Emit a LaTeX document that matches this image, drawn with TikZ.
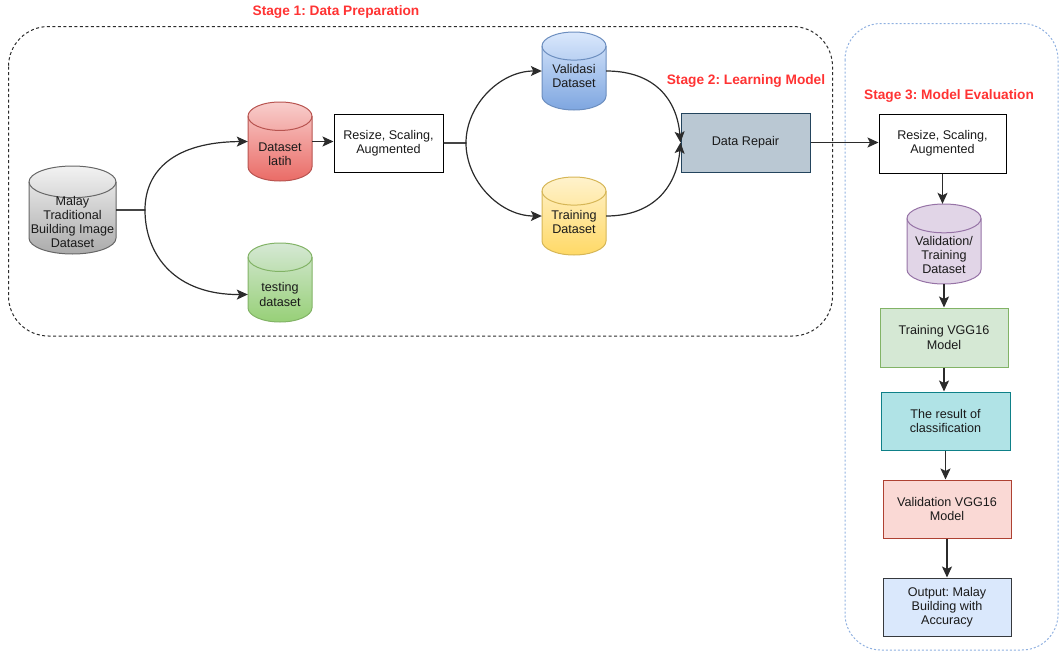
\documentclass[tikz,border=0pt]{standalone}
\usepackage{fontspec}
\setmainfont{Liberation Sans}
\usetikzlibrary{arrows.meta}
\frenchspacing
\definecolor{ttl}{HTML}{FF3333}
\definecolor{edge}{HTML}{2B2B2B}
\definecolor{txtc}{HTML}{1A1A1A}
\definecolor{grayT}{HTML}{F2F2F2}\definecolor{grayB}{HTML}{ABABAB}\definecolor{grayS}{HTML}{666666}
\definecolor{redT}{HTML}{F8CECC}\definecolor{redB}{HTML}{EA6B66}\definecolor{redS}{HTML}{B85450}
\definecolor{grnT}{HTML}{D5E8D4}\definecolor{grnB}{HTML}{97D077}\definecolor{grnS}{HTML}{82B366}
\definecolor{bluT}{HTML}{DAE8FC}\definecolor{bluB}{HTML}{7EA6E0}\definecolor{bluS}{HTML}{6C8EBF}
\definecolor{yelT}{HTML}{FFF2CC}\definecolor{yelB}{HTML}{FFD966}\definecolor{yelS}{HTML}{D6B656}
\definecolor{purF}{HTML}{E1D5E7}\definecolor{purS}{HTML}{9673A6}
\definecolor{repF}{HTML}{BAC8D3}\definecolor{repS}{HTML}{23445D}
\definecolor{tvF}{HTML}{D5E8D4}\definecolor{tvS}{HTML}{82B366}
\definecolor{resF}{HTML}{B0E3E6}\definecolor{resS}{HTML}{0E8088}
\definecolor{valF}{HTML}{FAD9D5}\definecolor{valS}{HTML}{AE4132}
\definecolor{outF}{HTML}{DAE8FC}\definecolor{outS}{HTML}{36393D}
\definecolor{st3}{HTML}{8FB0E0}

\newcommand\dbcyl[8]{%
 \pgfmathsetmacro\cylL{#2-(#4)/2}\pgfmathsetmacro\cylR{#2+(#4)/2}%
 \pgfmathsetmacro\cylT{-(#3)+(#5)/2}\pgfmathsetmacro\cylB{-(#3)-(#5)/2}%
 \pgfmathsetmacro\cylRy{0.18*(#5)}\pgfmathsetmacro\cylRx{(#4)/2}%
 \path[draw=#8, line width=1pt, top color=#6, bottom color=#7]
   (\cylL,\cylT-\cylRy) -- (\cylL,\cylB+\cylRy)
   arc[start angle=180, end angle=360, x radius=\cylRx, y radius=\cylRy]
   -- (\cylR,\cylT-\cylRy)
   arc[start angle=0, end angle=180, x radius=\cylRx, y radius=\cylRy] -- cycle;
 \draw[draw=#8, line width=1pt] (\cylL,\cylT-\cylRy)
   arc[start angle=180, end angle=360, x radius=\cylRx, y radius=\cylRy];
 \node[inner sep=0pt, minimum width=#4pt, minimum height=#5pt] (#1) at (#2,-#3) {};
}

\tikzset{
 conn/.style={draw=edge, line width=1.2pt, -{Stealth[length=11pt,width=10pt,inset=2.5pt]}},
 txt/.style={align=center, inner sep=0pt, text=txtc},
 rectbox/.style={align=center, inner sep=0pt, text=txtc, line width=1pt},
 stagetitle/.style={text=ttl, font=\fontsize{13.7}{16}\selectfont\bfseries, inner sep=0pt},
}

\begin{document}
\begin{tikzpicture}[x=1pt,y=1pt, font=\fontsize{12.6}{14.2}\selectfont]
\useasboundingbox (0,0) rectangle (1062,-653);

% stage frames
\draw[draw=edge, line width=1pt, dash pattern=on 3pt off 2.5pt, rounded corners=40pt]
  (8.5,-26.5) rectangle (832.5,-336);
\draw[draw=st3, line width=1pt, dash pattern=on 2pt off 2pt, rounded corners=36pt]
  (845,-23.5) rectangle (1058,-650);

\node[stagetitle] (t1) at (336,-12) {Stage 1: Data Preparation};
\node[stagetitle] (t2) at (746,-81) {Stage 2: Learning Model};
\node[stagetitle] (t3) at (949,-96) {Stage 3: Model Evaluation};

% cylinders
\dbcyl{malay}{72.5}{210}{87}{88}{grayT}{grayB}{grayS}
\node[txt] (malayt) at (72.5,-222) {Malay\\Traditional\\Building Image\\Dataset};
\dbcyl{latih}{280}{141.5}{64}{79}{redT}{redB}{redS}
\node[txt] (latiht) at (280,-154) {Dataset\\latih};
\dbcyl{testing}{280}{282.5}{64}{79}{grnT}{grnB}{grnS}
\node[txt] (testingt) at (280,-294.5) {testing\\dataset};
\dbcyl{validasi}{574}{71}{64}{78}{bluT}{bluB}{bluS}
\node[txt] (validasit) at (574,-76) {Validasi\\Dataset};
\dbcyl{training}{574}{216}{64}{78}{yelT}{yelB}{yelS}
\node[txt] (trainingt) at (574,-222) {Training\\Dataset};
\dbcyl{valtrain}{944}{244}{74}{80}{purF}{purF}{purS}
\node[txt] (valtraint) at (944,-255) {Validation/\\Training\\Dataset};

% rectangles
\node[rectbox, draw=black, fill=white, minimum width=109pt, minimum height=58pt]
  (resize1) at (388.5,-143) {Resize, Scaling,\\Augmented};
\node[rectbox, draw=repS, fill=repF, minimum width=129pt, minimum height=59pt]
  (datarepair) at (745.5,-142.5) {Data Repair};
\node[rectbox, draw=black, fill=white, minimum width=127pt, minimum height=59pt]
  (resize2) at (942.5,-143.5) {Resize, Scaling,\\Augmented};
\node[rectbox, draw=tvS, fill=tvF, minimum width=128pt, minimum height=59pt]
  (trainvgg) at (944,-337.5) {Training VGG16\\Model};
\node[rectbox, draw=resS, fill=resF, minimum width=129pt, minimum height=58pt]
  (result) at (945.5,-421) {The result of\\classification};
\node[rectbox, draw=valS, fill=valF, minimum width=128pt, minimum height=58pt]
  (validation) at (947,-509) {Validation VGG16\\Model};
\node[rectbox, draw=outS, fill=outF, minimum width=128pt, minimum height=58pt]
  (output) at (947,-607) {Output: Malay\\Building with\\Accuracy};

% connectors
\coordinate (split1) at (145,-210);
\coordinate (split2) at (466,-143);
\draw[conn] (malay.east) -- (split1) .. controls (145,-170) and (175,-142) .. (latih.west);
\draw[conn] (malay.east) -- (split1) .. controls (145,-255) and (175,-295) .. ([yshift=-12pt]testing.west);
\draw[conn] (latih.east) -- (latih.east -| resize1.west);
\draw[conn] (resize1.east) -- (split2) .. controls (466,-105) and (500,-71) .. (validasi.west);
\draw[conn] (resize1.east) -- (split2) .. controls (466,-181) and (500,-216) .. (training.west);
\draw[conn] (validasi.east) .. controls (655,-71) and (677,-100) .. (datarepair.west);
\draw[conn] (training.east) .. controls (655,-216) and (677,-185) .. (datarepair.west);
\draw[conn] (datarepair.east) -- (datarepair.east -| resize2.west);
\draw[conn] (resize2.south) -- (resize2.south |- valtrain.north);
\draw[conn] (valtrain.south) -- (valtrain.south |- trainvgg.north);
\draw[conn] (trainvgg.south) -- (trainvgg.south |- result.north);
\draw[conn] (result.south) -- (result.south |- validation.north);
\draw[conn] (validation.south) -- (validation.south |- output.north);
\end{tikzpicture}
\end{document}
